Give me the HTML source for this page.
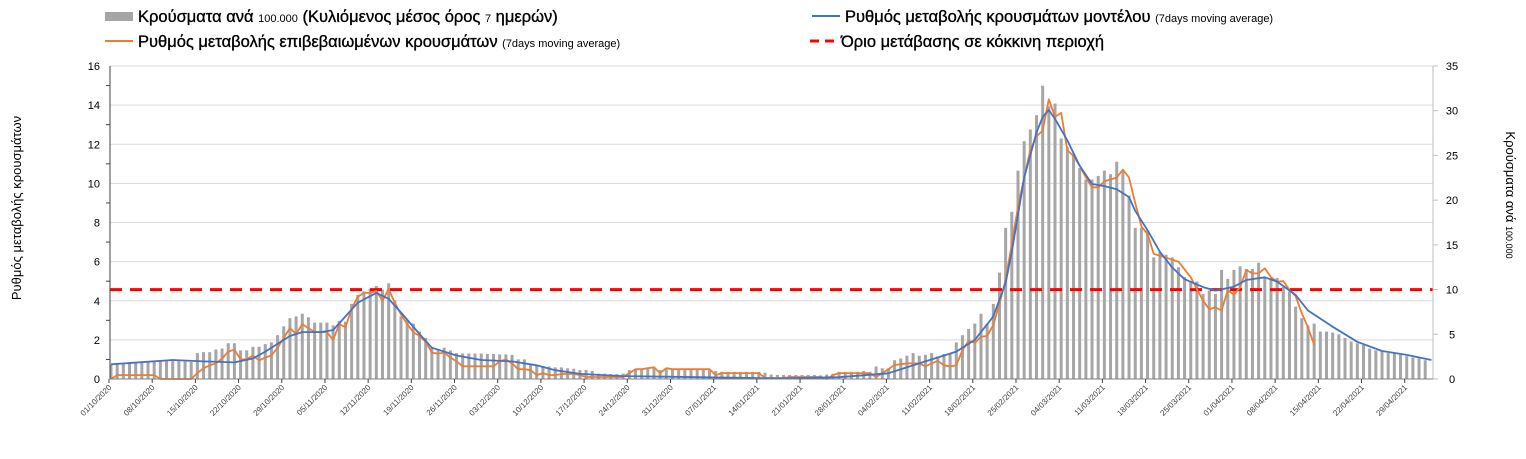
<!DOCTYPE html>
<html><head><meta charset="utf-8">
<style>
body{margin:0;background:#fff;width:1526px;height:454px;overflow:hidden;font-family:"Liberation Sans",sans-serif;}
svg text{font-family:"Liberation Sans","DejaVu Sans",sans-serif;}
.lg{font-size:16.5px;fill:#000;stroke:#000;stroke-width:0.35px;}
.lg tspan{stroke-width:0;}
</style></head>
<body>
<svg id="chart" width="1526" height="454" viewBox="0 0 1526 454" xmlns="http://www.w3.org/2000/svg">
<g id="legend">
  <g>
    <rect x="105" y="12" width="28" height="9" fill="#a6a6a6"/>
    <text class="lg" x="138" y="22">Κρούσματα ανά <tspan font-size="11">100.000</tspan> (Κυλιόμενος μέσος όρος <tspan font-size="11">7</tspan> ημερών)</text>
  </g>
  <g>
    <line x1="812" y1="16" x2="840" y2="16" stroke="#4472c4" stroke-width="2"/>
    <text class="lg" x="845" y="22">Ρυθμός μεταβολής κρουσμάτων μοντέλου <tspan font-size="11">(7days moving average)</tspan></text>
  </g>
  <g>
    <line x1="105" y1="41" x2="133" y2="41" stroke="#ed7d31" stroke-width="2"/>
    <text class="lg" x="138" y="47">Ρυθμός μεταβολής επιβεβαιωμένων κρουσμάτων <tspan font-size="11">(7days moving average)</tspan></text>
  </g>
  <g>
    <line x1="810" y1="41" x2="840" y2="41" stroke="#ff0000" stroke-width="3" stroke-dasharray="9,6"/>
    <text class="lg" x="841" y="47">Όριο μετάβασης σε κόκκινη περιοχή</text>
  </g>
</g>
<text transform="translate(21,208) rotate(-90)" text-anchor="middle" font-size="13">Ρυθμός μεταβολής κρουσμάτων</text>
<text transform="translate(1506,195) rotate(90)" text-anchor="middle" font-size="13">Κρούσματα ανά <tspan font-size="9">100.000</tspan></text>
<g id="grid"></g><g id="bars"></g><g id="lines"></g><g id="axes"></g>
</svg>
<script>
const startDate = [2020, 9, 1];
const leftTicks = [0,2,4,6,8,10,12,14,16];
const rightTicks = [0,5,10,15,20,25,30,35];
const dateLabels = ["01/10/2020","08/10/2020","15/10/2020","22/10/2020","29/10/2020","05/11/2020","12/11/2020","19/11/2020","26/11/2020","03/12/2020","10/12/2020","17/12/2020","24/12/2020","31/12/2020","07/01/2021","14/01/2021","21/01/2021","28/01/2021","04/02/2021","11/02/2021","18/02/2021","25/02/2021","04/03/2021","11/03/2021","18/03/2021","25/03/2021","01/04/2021","08/04/2021","15/04/2021","22/04/2021","29/04/2021"];
const threshold = 4.57;
const cases = [1.6,1.65,1.7,1.8,1.85,1.9,2.0,2.05,2.05,2.0,2.0,2.0,1.95,1.9,
2.9,3.0,3.0,3.3,3.4,4.0,4.0,3.2,3.2,3.6,3.6,3.9,4.1,4.9,5.9,6.8,7.0,7.3,6.9,6.3,6.3,6.3,6.0,6.5,6.4,
8.4,9.4,9.8,10.1,10.4,10.0,10.7,8.8,7.0,6.6,6.2,5.3,4.6,3.6,3.2,3.5,3.2,2.9,2.85,2.85,2.85,2.85,2.8,2.8,2.75,2.75,2.7,2.2,2.2,1.6,1.5,1.45,
1.4,1.3,1.3,1.2,1.15,1.0,1.0,0.9,0.6,0.6,0.55,0.55,0.6,1.0,1.1,1.1,1.15,1.2,1.0,1.2,
1.0,1.0,1.0,1.0,1.0,1.0,1.0,0.9,0.8,0.8,0.8,0.8,0.8,0.8,0.8,0.7,0.5,0.45,0.45,0.45,
0.45,0.45,0.45,0.45,0.4,0.5,0.6,0.8,0.8,0.8,0.8,0.9,0.8,1.4,
1.2,1.2,2.1,2.3,2.6,2.9,2.6,2.7,2.9,2.5,2.8,2.8,4.1,4.9,5.6,6.2,7.3,6.2,8.4,
11.9,16.9,18.7,23.3,26.6,27.9,29.5,32.8,30.5,30.8,26.9,25.9,25.2,23.6,22.3,22.3,22.7,23.3,22.9,24.3,23.3,20.5,16.9,16.9,16.6,13.6,14.2,13.9,13.6,12.5,11.4,10.9,10.9,
9.5,9.9,9.5,12.2,11.2,12.2,12.6,12.3,12.3,13.0,11.3,11.3,11.3,10.3,9.8,8.1,6.8,6.0,6.2,5.3,5.3,5.2,5.0,4.6,4.2,4.0,3.8,3.4,3.2,3.1,2.9,2.85,2.7,2.55,2.4,2.3,2.1];
const confirmedRate = [0,0.2,0.2,0.2,0.2,0.2,0.2,0.2,0,0,0,0,0,0,
0.3,0.55,0.7,0.8,1.05,1.4,1.5,1.0,1.0,1.2,0.95,1.1,1.2,1.6,2.1,2.6,2.3,2.8,2.6,2.4,2.4,2.4,2.0,2.8,2.65,
3.6,4.2,4.4,4.4,4.5,4.0,4.6,3.9,3.3,2.8,2.4,2.2,1.9,1.35,1.3,1.35,1.1,0.9,0.65,0.65,0.65,0.65,0.65,0.65,0.9,1.0,0.8,0.5,0.5,0.45,0.2,0.3,
0.2,0.2,0.25,0.26,0.26,0.2,0.1,0.1,0.1,0.1,0.1,0.1,0.1,0.3,0.5,0.5,0.55,0.6,0.3,0.55,0.5,0.5,0.5,0.5,0.5,0.5,0.5,0.2,0.3,
0.3,0.3,0.3,0.3,0.3,0.3,0.05,0.05,0.05,0.05,0.1,0.1,0.1,0.1,0.1,0.1,0.0,0.2,0.3,0.3,0.3,0.3,0.3,0.3,0.1,0.3,0.5,0.72,0.75,0.8,0.8,0.8,0.65,0.8,0.93,0.7,0.65,0.7,
1.48,1.95,1.85,2.16,2.2,2.76,3.86,5.06,6.9,8.8,10.3,11.7,12.4,12.7,14.3,13.4,13.6,11.7,11.4,10.9,10.3,9.8,9.8,10.1,10.2,10.3,10.7,10.3,9.0,7.8,7.4,6.4,6.3,6.2,6.1,6.0,5.6,5.2,4.6,4.0,
3.57,3.66,3.5,4.55,4.3,4.7,5.57,5.4,5.4,5.66,5.2,4.98,5.0,4.55,4.24,3.36,2.64,1.74];
const modelDays = [0,10,15,20,23,25,29,31,34,36,38,40,43,45,47,50,52,56,60,65,69,72,76,83,90,108,118,126,132,137,140,143,145,146,148,150,151,152,153,155,157,159,161,163,165,166,168,170,172,174,177,179,182,184,187,189,192,194,198,202,206,210,214];
const modelRate = [0.75,0.97,0.9,0.85,1.05,1.4,2.2,2.4,2.4,2.5,3.2,3.9,4.4,4.1,3.4,2.3,1.6,1.2,0.97,0.9,0.7,0.45,0.26,0.15,0.12,0.03,0.09,0.29,0.9,1.4,2.0,3.2,4.9,6.5,10.3,12.6,13.4,13.75,13.3,12.2,10.9,9.97,9.86,9.7,9.3,8.6,7.6,6.5,5.7,5.1,4.7,4.52,4.72,5.06,5.2,4.98,4.3,3.5,2.67,1.9,1.43,1.23,0.97];

const NS="http://www.w3.org/2000/svg";
const X0=111, DX=6.17, Y0=379, YTOP=66, AX_L=110, AX_R=1433;
const xDay=d=>X0+d*DX;
const yLeft=v=>Y0-(v/16)*(Y0-YTOP);
const yRight=v=>Y0-(v/35)*(Y0-YTOP);
function mk(tag,attrs,parent){const e=document.createElementNS(NS,tag);for(const k in attrs)e.setAttribute(k,attrs[k]);parent.appendChild(e);return e;}
const grid=document.getElementById('grid'),bars=document.getElementById('bars'),lines=document.getElementById('lines'),axes=document.getElementById('axes');

leftTicks.forEach(t=>{
  if(t>0){const g=mk('line',{x1:AX_L,x2:AX_R,y1:yLeft(t),y2:yLeft(t),stroke:'#d9d9d9','stroke-width':1},grid);
  
  }
  const lb=mk('text',{x:100,y:yLeft(t)+4,'text-anchor':'end','font-size':11,fill:'#000'},axes);lb.textContent=t;
  
  
});
for(let v=1;v<16;v+=2){mk('line',{x1:AX_L-4,x2:AX_L,y1:yLeft(v),y2:yLeft(v),stroke:'#404040'},axes);}
rightTicks.forEach(t=>{
  mk('line',{x1:AX_R,x2:AX_R+5,y1:yRight(t),y2:yRight(t),stroke:'#bfbfbf'},axes);
  const lb=mk('text',{x:1452,y:yRight(t)+4,'text-anchor':'middle','font-size':11,fill:'#000'},axes);lb.textContent=t;
  
  
});
const al=mk('line',{x1:AX_L,x2:AX_L,y1:YTOP,y2:Y0,stroke:'#404040'},axes);


const ar=mk('line',{x1:AX_R,x2:AX_R,y1:YTOP,y2:Y0,stroke:'#bfbfbf'},axes);


const ax=mk('line',{x1:AX_L,x2:AX_R,y1:Y0,y2:Y0,stroke:'#808080'},axes);



dateLabels.forEach((s,i)=>{
  const x=xDay(i*7)-2;
  mk('line',{x1:x,x2:x,y1:Y0,y2:Y0+4,stroke:'#404040'},axes);
  const lb=mk('text',{transform:`translate(${x+3},${Y0+9}) rotate(-45)`,'text-anchor':'end','font-size':8,fill:'#404040'},axes);lb.textContent=s;
  
  
});

cases.forEach((v,d)=>{
  const y=yRight(v);
  const b=mk('rect',{x:xDay(d)-1.5,y:y,width:3,height:Y0-y,fill:'#a6a6a6'},bars);
  
  
});

const th=mk('line',{x1:AX_L,x2:AX_R,y1:yLeft(threshold),y2:yLeft(threshold),stroke:'#ff0000','stroke-width':3,'stroke-dasharray':'12,8'},lines);



const op=confirmedRate.map((v,d)=>(d?'L':'M')+xDay(d).toFixed(1)+','+yLeft(v).toFixed(1)).join('');
const o=mk('path',{d:op,fill:'none',stroke:'#ed7d31','stroke-width':1.8,'stroke-linejoin':'round'},lines);



const bp=modelRate.map((v,i)=>(i?'L':'M')+xDay(modelDays[i]).toFixed(1)+','+yLeft(v).toFixed(1)).join('');
const b=mk('path',{d:bp,fill:'none',stroke:'#4472c4','stroke-width':1.8,'stroke-linejoin':'round'},lines);


</script>
</body></html>
